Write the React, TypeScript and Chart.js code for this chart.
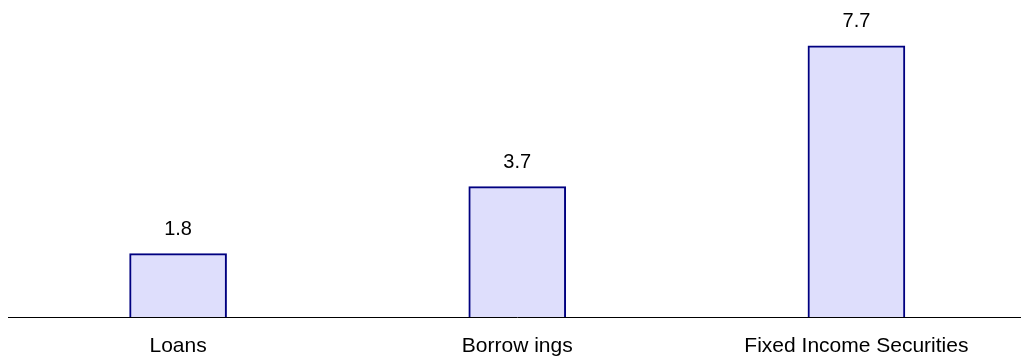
import React, { useEffect, useRef } from "react";
import { Chart, registerables } from "chart.js";

Chart.register(...registerables);

const categories = ["Loans", "Borrow ings", "Fixed Income Securities"];
const values = [1.8, 3.7, 7.7];
const valueLabels = ["1.8", "3.7", "7.7"];

const FONT = "'Liberation Sans', Arial, sans-serif";

const valueLabelPlugin = {
  id: "valueLabels",
  afterDatasetsDraw(chart: any) {
    const ctx = chart.ctx;
    const meta = chart.getDatasetMeta(0);
    ctx.save();
    ctx.font = `20px ${FONT}`;
    ctx.fillStyle = "#000";
    ctx.textAlign = "center";
    ctx.textBaseline = "alphabetic";
    meta.data.forEach((el: any, i: number) => {
      ctx.fillText(valueLabels[i], el.x, el.y - 19);
    });
    ctx.restore();
  },
};

export default function App() {
  const ref = useRef<HTMLCanvasElement | null>(null);

  useEffect(() => {
    document.body.style.margin = "0";
    document.body.style.overflow = "hidden";
    const chart = new Chart(ref.current as HTMLCanvasElement, {
      type: "bar",
      data: {
        labels: categories,
        datasets: [
          {
            data: values,
            backgroundColor: "rgb(222,222,252)",
            borderColor: "#000080",
            borderWidth: 2,
            barThickness: 97,
          },
        ],
      },
      options: {
        animation: false,
        responsive: false,
        maintainAspectRatio: false,
        layout: { padding: { left: 8.5, right: 0, top: 0, bottom: 0 } },
        plugins: {
          legend: { display: false },
          tooltip: { enabled: false },
        },
        scales: {
          x: {
            grid: { display: false, drawTicks: false },
            border: { display: true, color: "#000", width: 1 },
            ticks: {
              color: "#000",
              padding: 17,
              maxRotation: 0,
              autoSkip: false,
              font: { family: FONT, size: 21 },
            },
            afterFit(scale: any) {
              scale.height = 43;
            },
          },
          y: {
            display: false,
            min: 0,
            max: 9,
          },
        },
      },
      plugins: [valueLabelPlugin],
    });
    return () => chart.destroy();
  }, []);

  return (
    <div style={{ width: 1026, height: 360 }}>
      <canvas ref={ref} width={1026} height={360} style={{ display: "block", width: 1026, height: 360 }} />
    </div>
  );
}
